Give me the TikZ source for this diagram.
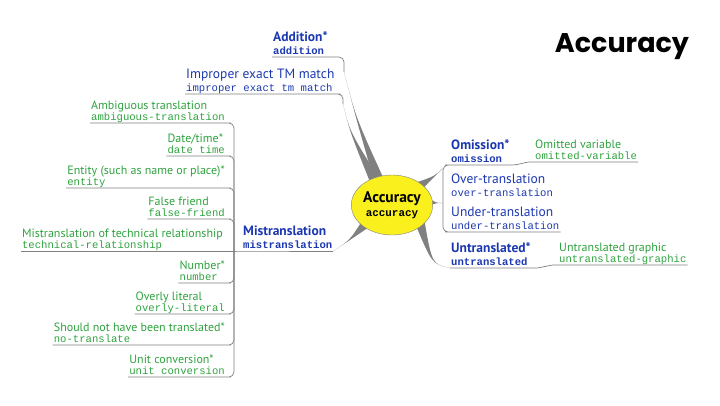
\documentclass[tikz,border=0pt]{standalone}
\usepackage{fontspec}
\setmainfont{PT Sans}
\newfontfamily\codefont{Liberation Mono}
\newfontfamily\titlefont{Poppins}
\usetikzlibrary{calc,shapes.geometric,backgrounds}

\definecolor{mmblue}{RGB}{28,56,176}
\definecolor{mmgreen}{RGB}{46,162,62}
\definecolor{mmyellow}{RGB}{250,240,30}
\definecolor{mmgray}{RGB}{128,128,128}

\newcommand{\ident}[1]{{\codefont\fontsize{10.6}{11.5}\selectfont\vphantom{g}#1}}
\newcommand{\identb}[1]{{\codefont\bfseries\fontsize{10.6}{11.5}\selectfont\vphantom{g}#1}}
% tapered branch: start, control, tip
\newcommand{\thorn}[3]{%
  \fill[branch] ($(#1)!5pt!90:(#2)$) .. controls (#2) .. (#3)
    .. controls (#2) .. ($(#1)!5pt!-90:(#2)$) -- cycle;}

\tikzset{
  topic/.style={inner xsep=1pt, inner ysep=0pt, text=mmblue, align=left, anchor=south west, font=\fontsize{13.5}{13}\selectfont},
  subtopic/.style={inner xsep=1pt, inner ysep=0pt, text=mmgreen, align=left, font=\fontsize{12}{11.5}\selectfont},
  uline/.style={draw=mmgray, line width=0.7pt, rounded corners=5pt},
  branch/.style={fill=mmgray},
}

\begin{document}
\begin{tikzpicture}[x=1pt,y=-1pt]
\useasboundingbox (0,0) rectangle (720,405);

\node[font=\titlefont\bfseries\fontsize{27}{30}\selectfont] (title) at (622,47) {Accuracy};

% central topic
\node[ellipse, draw=mmgray, fill=mmyellow, minimum width=74pt, minimum height=60pt, inner sep=0pt, align=center, font=\bfseries\fontsize{15.5}{14}\selectfont] (acc) at (392,205) {Accuracy\\{\codefont\bfseries\fontsize{10.9}{12}\selectfont accuracy}};

% main topics
\node[topic] (add) at (272,57) {\textbf{Addition*}\\\identb{addition}};
\node[topic] (impr) at (185,94) {Improper exact TM match\\\ident{improper exact tm match}};
\node[topic] (mis) at (242,251) {\textbf{Mistranslation}\\\identb{mistranslation}};
\node[topic] (omis) at (450,165) {\textbf{Omission*}\\\identb{omission}};
\node[topic] (over) at (450,199) {Over-translation\\\ident{over-translation}};
\node[topic] (under) at (450,232) {Under-translation\\\ident{under-translation}};
\node[topic] (untr) at (450,268) {\textbf{Untranslated*}\\\identb{untranslated}};

% subtopics
\node[subtopic, anchor=south west] (omvar) at (534,162) {Omitted variable\\\ident{omitted-variable}};
\node[subtopic, anchor=south west] (ugraph) at (558,265) {Untranslated graphic\\\ident{untranslated-graphic}};

\node[subtopic, anchor=south east] (ambig) at (226,123) {Ambiguous translation\\\ident{ambiguous-translation}};
\node[subtopic, anchor=south east] (date) at (226,156) {Date/time*\\\ident{date time}};
\node[subtopic, anchor=south east] (entity) at (226,188) {Entity (such as name or place)*\\\ident{entity}};
\node[subtopic, anchor=south east] (false) at (226,219) {False friend\\\ident{false-friend}};
\node[subtopic, anchor=south east] (tech) at (224,251) {Mistranslation of technical relationship\\\ident{technical-relationship}};
\node[subtopic, anchor=south east] (number) at (226,283) {Number*\\\ident{number}};
\node[subtopic, anchor=south east] (overly) at (226,314) {Overly literal\\\ident{overly-literal}};
\node[subtopic, anchor=south east] (should) at (226,345) {Should not have been translated*\\\ident{no-translate}};
\node[subtopic, anchor=south east] (unit) at (226,377) {Unit conversion*\\\ident{unit conversion}};

\coordinate (addtip) at (344,72);
\coordinate (imptip) at (343,104);
\coordinate (ovtip) at (443,203);
\coordinate (fork) at (234,251);

% branches from the central topic
\begin{scope}[on background layer]
\thorn{$(acc.center)!0.85!(acc.118)$}{356,118}{addtip}
\thorn{$(acc.center)!0.85!(acc.126)$}{350,132}{imptip}
\thorn{$(acc.center)!0.85!(acc.215)$}{350,240}{mis.south east}
\thorn{$(acc.center)!0.85!(acc.35)$}{435,176}{443,168}
\thorn{$(acc.center)!0.85!(acc.5)$}{436,203}{ovtip}
\thorn{$(acc.center)!0.85!(acc.-30)$}{432,264}{untr.south west}
\end{scope}

% underlines
\draw[uline] (add.south west) -- (add.south east) -| (addtip);
\draw[uline] (impr.south west) -- (impr.south east) -| (imptip);
\draw[uline] (fork) -- (mis.south west) -- (mis.south east);
\draw[uline] (omis.south east) -- (omis.south west) -| (ovtip) |- (under.south west) -- (under.south east);
\draw[uline] (omis.south east) .. controls +(8,0) and +(-8,0) .. (omvar.south west) -- (omvar.south east);
\draw[uline] (untr.south west) -- (untr.south east) .. controls +(6,0) and +(-6,0) .. (ugraph.south west) -- (ugraph.south east);

\draw[uline] (ambig.south west) -- (ambig.south east) -| (fork);
\draw[uline] (date.south west) -- (date.south east) -| (fork);
\draw[uline] (entity.south west) -- (entity.south east) -| (fork);
\draw[uline] (false.south west) -- (false.south east) -| (fork);
\draw[uline] (tech.south west) -- (fork);
\draw[uline] (number.south west) -- (number.south east) -| (fork);
\draw[uline] (overly.south west) -- (overly.south east) -| (fork);
\draw[uline] (should.south west) -- (should.south east) -| (fork);
\draw[uline] (unit.south west) -- (unit.south east) -| (fork);
\end{tikzpicture}
\end{document}
